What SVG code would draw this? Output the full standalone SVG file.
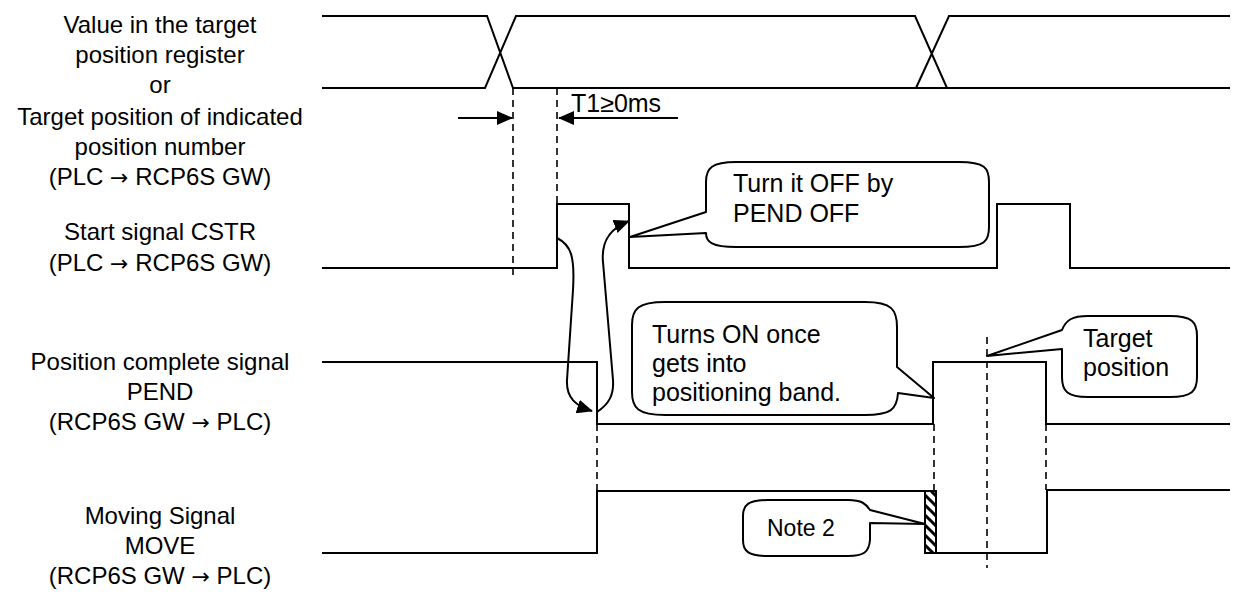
<svg xmlns="http://www.w3.org/2000/svg" width="1236" height="602" viewBox="0 0 1236 602">
<style>
.t{font-family:"Liberation Sans",Arial,sans-serif;font-size:24px;fill:#000}
.c{font-size:25px}
.l{text-anchor:middle}
.a{font-family:"DejaVu Sans",sans-serif;font-size:22px}
.s{fill:none;stroke:#000;stroke-width:2}
.d{fill:none;stroke:#000;stroke-width:1.6;stroke-dasharray:7 5}
.b{fill:#fff;stroke:#000;stroke-width:2;stroke-linejoin:round}
</style>
<defs>
<pattern id="hatch" patternUnits="userSpaceOnUse" width="10" height="10">
<rect width="10" height="10" fill="#fff"/>
<path d="M-2,-2 L12,12 M-2,8 L2,12 M8,-2 L12,2" stroke="#000" stroke-width="3"/>
</pattern>
<marker id="ah" markerWidth="16" markerHeight="14" refX="15" refY="7" orient="auto" markerUnits="userSpaceOnUse">
<path d="M0,0 L16,7 L0,14 Z" fill="#000"/>
</marker>
</defs>

<g id="labels">
<text class="t l" x="160" y="33">Value in the target</text>
<text class="t l" x="160" y="63">position register</text>
<text class="t l" x="160" y="93">or</text>
<text class="t l" x="160" y="125">Target position of indicated</text>
<text class="t l" x="160" y="155">position number</text>
<text class="t l" x="160" y="185">(PLC <tspan class="a">→</tspan> RCP6S GW)</text>
<text class="t l" x="160" y="240">Start signal CSTR</text>
<text class="t l" x="160" y="271">(PLC <tspan class="a">→</tspan> RCP6S GW)</text>
<text class="t l" x="160" y="370">Position complete signal</text>
<text class="t l" x="160" y="400">PEND</text>
<text class="t l" x="160" y="430">(RCP6S GW <tspan class="a">→</tspan> PLC)</text>
<text class="t l" x="160" y="524">Moving Signal</text>
<text class="t l" x="160" y="554">MOVE</text>
<text class="t l" x="160" y="584">(RCP6S GW <tspan class="a">→</tspan> PLC)</text>
</g>

<g id="signal-position">
<path class="s" d="M322,16 H487 L513,88 H1230 M322,88 H485 L516,16 H915 L947,88 M916,88 L949,16 H1230"/>
</g>

<g id="signal-cstr">
<path class="s" d="M322,268 H557 V204 H629 V268 H997 V204 H1070 V268 H1230"/>
</g>

<g id="signal-pend">
<path class="s" d="M322,362 H597 V424 H933 V362 H1046 V424 H1230"/>
</g>

<g id="signal-move">
<path class="s" d="M322,553 H597 V491 H925 M925,553 H1047 V490 H1230"/>
<rect x="925" y="491" width="11" height="62" fill="url(#hatch)" stroke="#000" stroke-width="2"/>
</g>

<g id="connectors">
<path class="d" d="M513,88 V276"/>
<path class="d" d="M557,88 V268"/>
<path class="d" d="M597,424 V491"/>
<path class="d" d="M934,424 V491"/>
<path class="d" d="M1046,424 V490"/>
<path class="d" d="M987,337 V568"/>
<path class="s" d="M458,118 H512" marker-end="url(#ah)"/>
<path class="s" d="M678,118 H559" marker-end="url(#ah)"/>
<path class="s" d="M557,238 C571,245 575,256 573,290 L567,380 C566,398 576,406 592,411" marker-end="url(#ah)"/>
<path class="s" d="M597,412 C609,404 614,395 613,380 L603,262 C601,240 611,228 629,221" marker-end="url(#ah)"/>
</g>

<g id="t1-label">
<text class="t c" x="571" y="112">T1≥0ms</text>
</g>

<g id="callout-off">
<path class="b" d="M736,162 H959 C985,162 989,168 989,182 V227 C989,241 985,247 959,247 H736 C712,247 706,242 706,233 L630,237 L706,212 V182 C706,168 712,162 736,162 Z"/>
<text class="t c" x="733" y="192">Turn it OFF by</text>
<text class="t c" x="733" y="222">PEND OFF</text>
</g>

<g id="callout-on">
<path class="b" d="M665,302 H865 C892,302 897,310 897,327 V367 L934,398 L898,393 C897,410 890,415 865,415 H665 C638,415 632,408 632,392 V325 C632,309 638,302 665,302 Z"/>
<text class="t c" x="652" y="343">Turns ON once</text>
<text class="t c" x="652" y="372">gets into</text>
<text class="t c" x="652" y="401">positioning band.</text>
</g>

<g id="callout-target">
<path class="b" d="M1088,316 H1170 C1192,316 1197,322 1197,336 V377 C1197,391 1192,397 1170,397 H1088 C1067,397 1062,391 1062,377 V349 L987,356 L1062,330 C1066,320 1072,316 1088,316 Z"/>
<text class="t c" x="1083" y="347">Target</text>
<text class="t c" x="1083" y="376">position</text>
</g>

<g id="callout-note2">
<path class="b" d="M768,500 H848 C862,500 866,504 870,510 L925,524 L870,523 V540 C869,552 864,556 848,556 H768 C748,556 743,551 743,540 V516 C743,505 748,500 768,500 Z"/>
<text class="t" x="767" y="536" style="font-size:23px">Note 2</text>
</g>
</svg>
